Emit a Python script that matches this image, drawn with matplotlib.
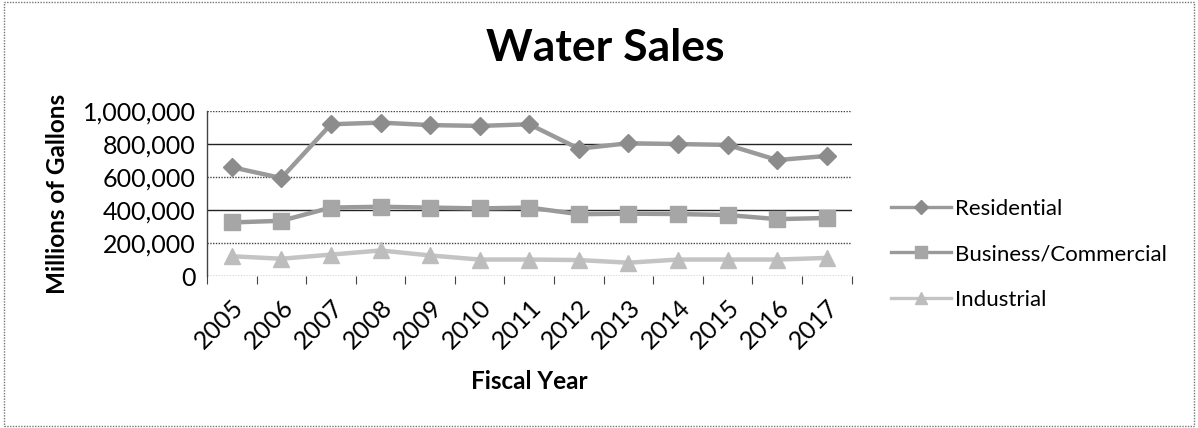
import matplotlib
matplotlib.use("Agg")
import matplotlib.pyplot as plt
from matplotlib.ticker import FuncFormatter, FixedLocator
from matplotlib.patches import Rectangle

plt.rcParams['font.family'] = ['Lato', 'DejaVu Sans']

years = ['2005', '2006', '2007', '2008', '2009', '2010', '2011',
         '2012', '2013', '2014', '2015', '2016', '2017']
residential = [660000, 594000, 920000, 930000, 915000, 910000, 920000,
               772000, 805000, 800000, 795000, 703000, 728000]
business = [325000, 335000, 415000, 420000, 415000, 410000, 415000,
            375000, 378000, 376000, 370000, 345000, 352000]
industrial = [120000, 105000, 130000, 155000, 125000, 100000, 100000,
              97000, 81000, 100000, 100000, 100000, 110000]
yticks = [0, 200000, 400000, 600000, 800000, 1000000]

fig = plt.figure(figsize=(11.98, 4.28), dpi=100)
ax = fig.add_axes([0.1728, 0.355, 0.538, 0.3855])

x = list(range(len(years)))
series = [
    ('Residential', residential, 'D', '#8c8c8c', '#9a9a9a', 9),
    ('Business/Commercial', business, 's', '#a6a6a6', '#9a9a9a', 11),
    ('Industrial', industrial, '^', '#bdbdbd', '#c4c4c4', 11),
]
for name, vals, mk, mcol, lcol, ms in series:
    ax.plot(x, vals, color=lcol, lw=3.2, marker=mk, markersize=ms,
            markerfacecolor=mcol, markeredgecolor=mcol, label=name,
            solid_joinstyle='round')

ax.set_xlim(-0.5, len(years) - 0.5)
ax.set_ylim(0, 1000000)

# gridlines
for v in yticks:
    if v in (400000, 800000):
        ax.axhline(v, color='#222222', lw=1.0, zorder=0)
    else:
        ax.axhline(v, color='#444444', lw=1.0, ls=(0, (1, 1)), zorder=0)

ax.set_yticks(yticks)
ax.yaxis.set_major_formatter(FuncFormatter(lambda v, p: f'{int(v):,}'))
ax.tick_params(axis='y', length=0, labelsize=18, pad=8)

# category boundaries as ticks, labels centered in each category
ax.xaxis.set_major_locator(FixedLocator([i - 0.5 for i in range(len(years) + 1)]))
ax.xaxis.set_major_formatter(FuncFormatter(lambda v, p: ''))
ax.xaxis.set_minor_locator(FixedLocator(x))
ax.set_xticklabels(years, minor=True, rotation=45, ha='right',
                   rotation_mode='anchor', fontsize=18)
ax.tick_params(axis='x', which='major', length=6, width=0.8,
               color='#444444', direction='out')
ax.tick_params(axis='x', which='minor', length=0, pad=14)

for s in ax.spines.values():
    s.set_visible(False)
ax.spines['left'].set_visible(True)
ax.spines['left'].set_color('#444444')
ax.spines['left'].set_linestyle((0, (1, 1)))
ax.spines['left'].set_linewidth(1.0)

ax.set_xlabel('Fiscal Year', fontsize=17.5, fontweight='bold', labelpad=12)
ax.set_ylabel('Millions of Gallons', fontsize=17.5, fontweight='bold', labelpad=10)

fig.text(0.505, 0.888, 'Water Sales', ha='center', va='center',
         fontsize=32, fontweight='bold')

leg = ax.legend(loc='center left', bbox_to_anchor=(1.03, 0.133),
                frameon=False, fontsize=16, handlelength=2.7,
                labelspacing=1.15, handletextpad=0.2, markerscale=0.8)
for h in leg.get_lines():
    h.set_linewidth(2.4)

# outer chart border
fig.patches.append(Rectangle((0.003, 0.005), 0.994, 0.99,
                             transform=fig.transFigure, fill=False,
                             ec='#777777', lw=1.0, ls=(0, (1, 1))))

fig.savefig('out.png', dpi=100)
